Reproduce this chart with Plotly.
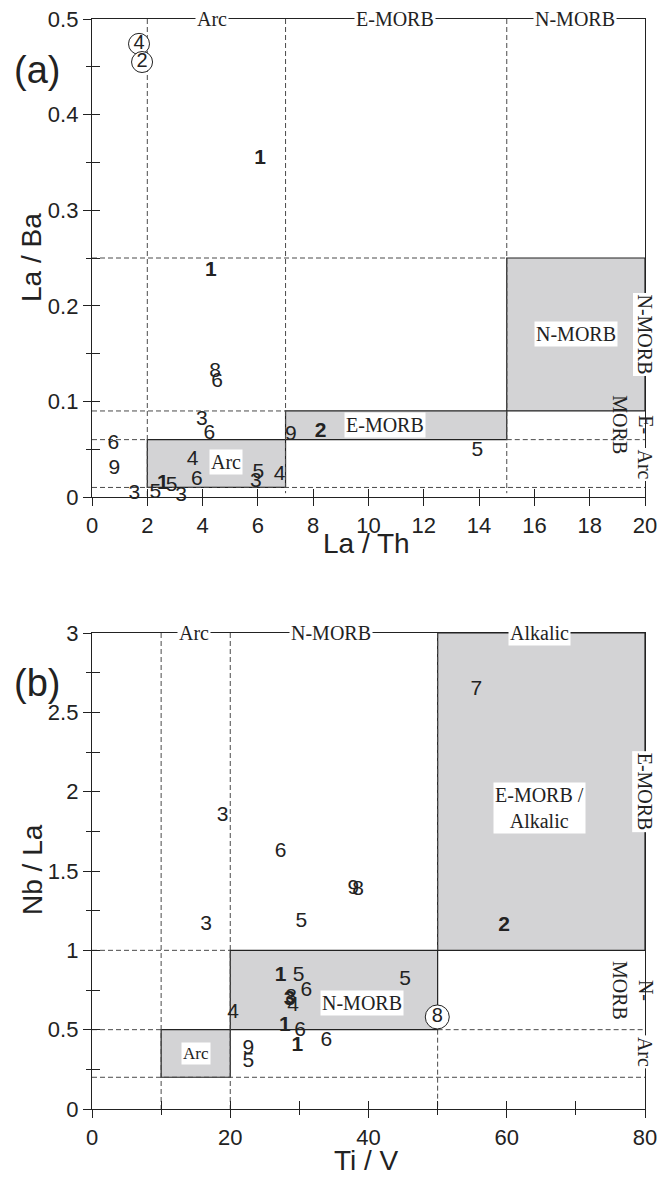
import plotly.graph_objects as go

# ---------------- data: panel (a) ----------------
a_labels = ["1", "1", "8", "6", "3", "6", "6", "9", "3", "5", "1", "5", "3",
            "4", "6", "5", "3", "4", "9", "2", "5"]
a_la_th = [6.08, 4.30, 4.45, 4.52, 3.97, 4.24, 0.77, 0.81, 1.53, 2.29, 2.56, 2.88, 3.22,
           3.64, 3.79, 6.02, 5.93, 6.78, 7.19, 8.27, 13.94]
a_la_ba = [0.354, 0.237, 0.131, 0.121, 0.081, 0.066, 0.056, 0.030, 0.003, 0.004, 0.0136, 0.0115, 0.001,
           0.039, 0.018, 0.025, 0.016, 0.023, 0.0655, 0.068, 0.048]
a_bold = [True, True, False, False, False, False, False, False, False, False, True, False, False,
          False, False, False, False, False, False, True, False]
a_circ_labels = ["4", "2"]
a_circ_la_th = [1.70, 1.81]
a_circ_la_ba = [0.474, 0.455]

# ---------------- data: panel (b) ----------------
b_labels = ["7", "2", "3", "6", "9", "8", "5", "3", "1", "5", "5", "6", "3", "8",
            "4", "4", "1", "6", "1", "6", "9", "5"]
b_ti_v = [55.6, 59.6, 18.9, 27.3, 37.8, 38.5, 30.3, 16.5, 27.3, 29.9, 45.3, 31.0, 28.6, 28.8,
          29.1, 20.4, 27.9, 30.1, 29.7, 33.9, 22.6, 22.6]
b_nb_la = [2.64, 1.153, 1.846, 1.62, 1.39, 1.38, 1.18, 1.16, 0.838, 0.838, 0.813, 0.744, 0.691, 0.70,
           0.649, 0.607, 0.523, 0.494, 0.397, 0.43, 0.382, 0.298]
b_bold = [False, True, False, False, False, False, False, False, True, False, False, False, True, False,
          False, False, True, False, True, False, False, False]
b_circ_labels = ["8"]
b_circ_ti_v = [49.95]
b_circ_nb_la = [0.58]

# ---------------- field boundaries ----------------
a_fields = {"Arc": (2, 7, 0.01, 0.06), "E-MORB": (7, 15, 0.06, 0.09), "N-MORB": (15, 20, 0.09, 0.25)}
b_fields = {"Arc": (10, 20, 0.2, 0.5), "N-MORB": (20, 50, 0.5, 1.0), "Alkalic": (50, 80, 1.0, 3.0)}

SANS = "Liberation Sans, Arial, sans-serif"
SERIF = "Liberation Serif, Times New Roman, serif"
INK = "#222222"
GRAY = "#d3d3d5"
DASH = "5px,3px"

fig = go.Figure()


def add_points(labels, xs, ys, bold, xa, ya):
    for flag in (False, True):
        idx = [i for i in range(len(labels)) if bold[i] == flag]
        fig.add_trace(go.Scatter(
            x=[xs[i] for i in idx], y=[ys[i] for i in idx], text=[labels[i] for i in idx],
            mode="text", textposition="middle center", cliponaxis=False,
            textfont=dict(family=SANS, size=21, color=INK, weight="bold" if flag else "normal"),
            xaxis=xa, yaxis=ya, showlegend=False, hoverinfo="skip"))


def add_circled(labels, xs, ys, xa, ya, size):
    fig.add_trace(go.Scatter(
        x=xs, y=ys, text=labels, mode="markers+text", textposition="middle center",
        cliponaxis=False,
        marker=dict(symbol="circle", size=size, color="white", line=dict(color=INK, width=1)),
        textfont=dict(family=SANS, size=20, color=INK),
        xaxis=xa, yaxis=ya, showlegend=False, hoverinfo="skip"))


def dline(xr, yr, x0, y0, x1, y1):
    fig.add_shape(type="line", xref=xr, yref=yr, x0=x0, y0=y0, x1=x1, y1=y1,
                  line=dict(color="#4a4a4a", width=1, dash=DASH), layer="below")


def box(xr, yr, f):
    fig.add_shape(type="rect", xref=xr, yref=yr, x0=f[0], x1=f[1], y0=f[2], y1=f[3],
                  fillcolor=GRAY, line=dict(color=INK, width=1.2), layer="below")


def lab(xr, yr, x, y, text, angle=0, size=20, xshift=0, bg="white"):
    fig.add_annotation(xref=xr, yref=yr, x=x, y=y, text=text, showarrow=False, textangle=angle,
                       font=dict(family=SERIF, size=size, color=INK), bgcolor=bg, borderpad=1,
                       xshift=xshift, align="center", xanchor="center", yanchor="middle")


# ---- panel (a) boundaries ----
for f in a_fields.values():
    box("x", "y", f)
dline("x", "y", 2, 0.5, 2, 0.0)
dline("x", "y", 7, 0.5, 7, 0.004)
dline("x", "y", 15, 0.5, 15, 0.004)
dline("x", "y", 0, 0.25, 15, 0.25)
dline("x", "y", 0, 0.09, 7, 0.09)
dline("x", "y", 0, 0.06, 2, 0.06)
dline("x", "y", 15, 0.06, 20, 0.06)
dline("x", "y", 0, 0.01, 20, 0.01)

# ---- panel (b) boundaries ----
for f in b_fields.values():
    box("x2", "y2", f)
dline("x2", "y2", 10, 3, 10, 0)
dline("x2", "y2", 20, 3, 20, 0)
dline("x2", "y2", 50, 0.5, 50, 0)
dline("x2", "y2", 50, 3, 50, 1)
dline("x2", "y2", 0, 1, 20, 1)
dline("x2", "y2", 0, 0.5, 10, 0.5)
dline("x2", "y2", 50, 0.5, 80, 0.5)
dline("x2", "y2", 0, 0.2, 80, 0.2)

add_points(a_labels, a_la_th, a_la_ba, a_bold, "x", "y")
add_circled(a_circ_labels, a_circ_la_th, a_circ_la_ba, "x", "y", 21)
add_points(b_labels, b_ti_v, b_nb_la, b_bold, "x2", "y2")
add_circled(b_circ_labels, b_circ_ti_v, b_circ_nb_la, "x2", "y2", 24)

# invisible traces for inside-tick overlay axes
fig.add_trace(go.Scatter(x=[], y=[], xaxis="x3", yaxis="y3", showlegend=False))
fig.add_trace(go.Scatter(x=[], y=[], xaxis="x4", yaxis="y4", showlegend=False))

# ---- field labels ----
lab("x", "y", 4.34, 0.5, "Arc")
lab("x", "y", 10.97, 0.5, "E-MORB")
lab("x", "y", 17.47, 0.5, "N-MORB")
lab("x", "y", 4.85, 0.037, "Arc")
lab("x", "y", 10.6, 0.075, "E-MORB")
lab("x", "y", 17.5, 0.17, "N-MORB")
lab("x", "y", 20, 0.17, "N-MORB", angle=90)
lab("x", "y", 20, 0.076, "E-<br>MORB", angle=90, xshift=-12, bg="rgba(0,0,0,0)")
lab("x", "y", 20, 0.034, "Arc", angle=90)

lab("x2", "y2", 14.7, 3, "Arc")
lab("x2", "y2", 34.6, 3, "N-MORB")
lab("x2", "y2", 64.8, 3, "Alkalic")
lab("x2", "y2", 15, 0.35, "Arc", size=17)
lab("x2", "y2", 39.0, 0.67, "N-MORB")
lab("x2", "y2", 64.8, 1.9, "E-MORB /<br>Alkalic")
lab("x2", "y2", 80, 2.0, "E-MORB", angle=90)
lab("x2", "y2", 80, 0.75, "N-<br>MORB", angle=90, xshift=-12, bg="rgba(0,0,0,0)")
lab("x2", "y2", 80, 0.36, "Arc", angle=90)

# ---- axis titles and panel letters ----
def ptxt(x, y, text, size, angle=0):
    fig.add_annotation(xref="paper", yref="paper", x=x, y=y, text=text, showarrow=False,
                       textangle=angle, xanchor="center", yanchor="middle",
                       font=dict(family=SANS, size=size, color=INK))

ptxt(32 / 659, 1 - 258 / 1181, "La / Ba", 28, -90)
ptxt(366 / 659, 1 - 543 / 1181, "La / Th", 28)
ptxt(32 / 659, 1 - 870 / 1181, "Nb / La", 28, -90)
ptxt(366 / 659, 1 - 1160 / 1181, "Ti / V", 28)
ptxt(37 / 659, 1 - 70 / 1181, "(a)", 38)
ptxt(37 / 659, 1 - 683 / 1181, "(b)", 38)

XD = [92 / 659, 645 / 659]
YA = [1 - 497 / 1181, 1 - 19 / 1181]
YB = [1 - 1109 / 1181, 1 - 633 / 1181]
tickfont = dict(family=SANS, size=22, color=INK)


def main_axis(domain, rng, dtick, minor, anchor):
    return dict(domain=domain, range=rng, anchor=anchor, showgrid=False, zeroline=False,
                automargin=False,
                showline=True, linecolor=INK, linewidth=1.3, mirror=True,
                ticks="outside", ticklen=8, tickwidth=1.3, tickcolor=INK, dtick=dtick, tick0=0,
                tickfont=tickfont,
                minor=dict(ticks="outside", ticklen=5, tickwidth=1.3, tickcolor=INK, dtick=minor, tick0=0,
                           showgrid=False))


def inner_axis(domain, rng, dtick, anchor, over):
    return dict(domain=domain, range=rng, anchor=anchor, overlaying=over, showgrid=False,
                automargin=False,
                zeroline=False, showline=False, ticks="inside", ticklen=8, tickwidth=1.3,
                tickcolor=INK, dtick=dtick, tick0=0, showticklabels=False)


fig.update_layout(
    width=659, height=1181, margin=dict(l=0, r=0, t=0, b=0, autoexpand=False),
    paper_bgcolor="white", plot_bgcolor="rgba(0,0,0,0)", showlegend=False,
    xaxis=main_axis(XD, [0, 20], 2, 2, "y"),
    yaxis=main_axis(YA, [0, 0.5], 0.1, 0.05, "x"),
    xaxis2=main_axis(XD, [0, 80], 20, 10, "y2"),
    yaxis2=main_axis(YB, [0, 3], 0.5, 0.25, "x2"),
    xaxis3=inner_axis(XD, [0, 20], 2, "y3", "x"),
    yaxis3=inner_axis(YA, [0, 0.5], 0.05, "x3", "y"),
    xaxis4=inner_axis(XD, [0, 80], 10, "y4", "x2"),
    yaxis4=inner_axis(YB, [0, 3], 0.25, "x4", "y2"),
)
fig.update_layout(yaxis=dict(tickvals=[0, 0.1, 0.2, 0.3, 0.4, 0.5], ticktext=["0", "0.1", "0.2", "0.3", "0.4", "0.5"]))
fig.update_layout(yaxis2=dict(tickvals=[0, 0.5, 1, 1.5, 2, 2.5, 3], ticktext=["0", "0.5", "1", "1.5", "2", "2.5", "3"]))

fig.write_html("out.html", config={"displayModeBar": False},
               post_script="document.body.style.margin='0';document.body.style.overflow='hidden';")
